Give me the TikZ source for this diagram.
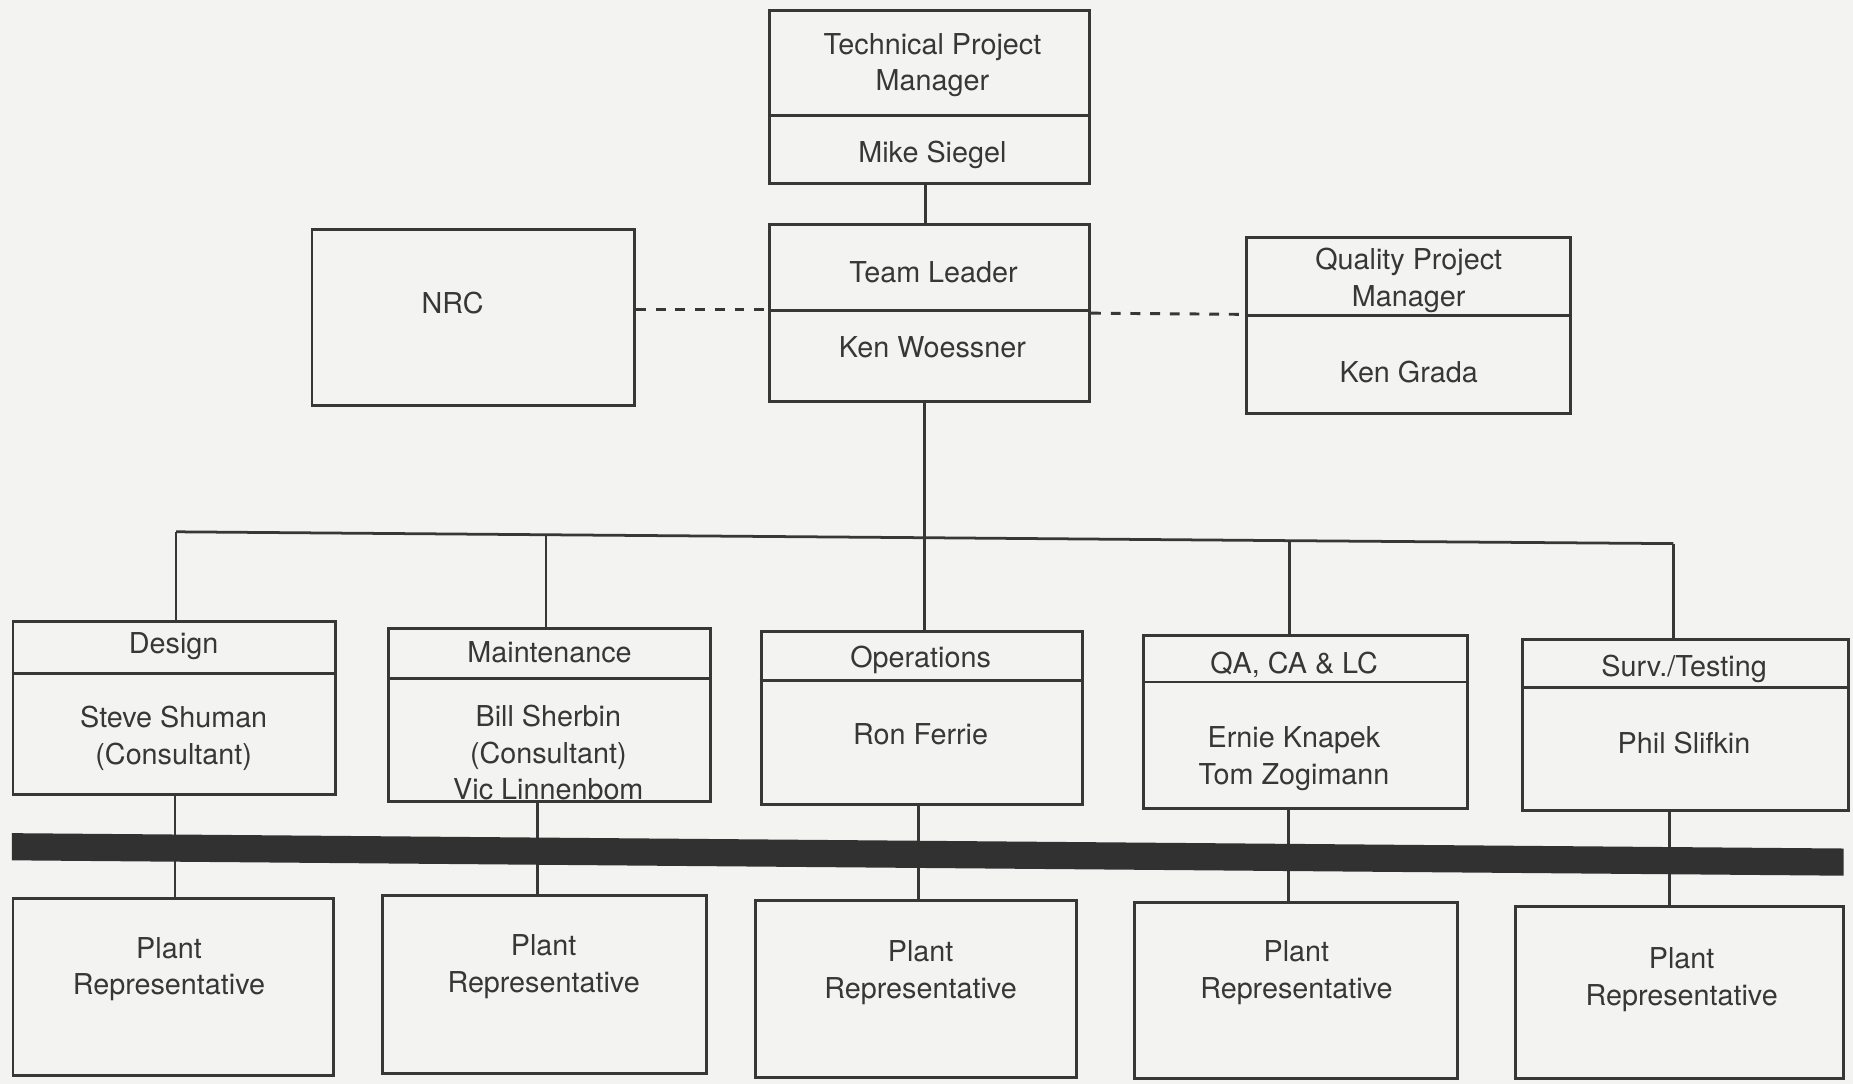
\documentclass[tikz,border=0pt]{standalone}
\usepackage{fontspec}
\setmainfont{TeX Gyre Heros}
\usetikzlibrary{fit}
\definecolor{ink}{RGB}{55,55,55}
\definecolor{paper}{RGB}{243,243,242}
\begin{document}
\begin{tikzpicture}[x=0.6pt,y=-0.6pt,
  box/.style={draw=ink, line width=1.5pt, inner sep=0pt},
  conn/.style={draw=ink, line width=1.4pt},
  dashconn/.style={draw=ink, line width=1.5pt, dash pattern=on 5pt off 5pt},
  lbl/.style={text=ink, font=\fontsize{14.6}{18.6}\selectfont, align=center, inner sep=0pt}]
\fill[paper] (0,0) rectangle (1568,917);
\useasboundingbox (0,0) rectangle (1568,917);

% top boxes
\node[box, fit={(651,9) (922,155)}] (tpm) {};
\draw[conn] (tpm.west |- 0,98) -- (tpm.east |- 0,98);
\node[lbl] (tpmT) at (789,55) {Technical Project\\Manager};
\node[lbl] (tpmN) at (789,131) {Mike Siegel};

\node[box, fit={(651,190) (922,340)}] (tl) {};
\draw[conn] (tl.west |- 0,263) -- (tl.east |- 0,263);
\node[lbl] (tlT) at (790,230) {Team Leader};
\node[lbl] (tlN) at (789,294) {Ken Woessner};

\node[box, fit={(264,194) (537,343)}] (nrc) {};
\node[lbl] (nrcT) at (383,256) {NRC};

\node[box, fit={(1055,201) (1329,350)}] (qpm) {};
\draw[conn] (qpm.west |- 0,267) -- (qpm.east |- 0,267);
\node[lbl] (qpmT) at (1192,237) {Quality Project\\Manager};
\node[lbl] (qpmN) at (1192,315) {Ken Grada};

\draw[conn] (tpm.south -| 783,0) -- (tl.north -| 783,0);
\draw[dashconn] (nrc.east |- 0,262) -- (tl.west |- 0,262);
\draw[dashconn] (tl.east |- 0,265) -- (qpm.west |- 0,266);

% second row
\node[box, fit={(11,526) (284,672)}] (des) {};
\draw[conn] (des.west |- 0,570) -- (des.east |- 0,570);
\node[lbl] (desT) at (147,547) {Design};
\node[lbl] (desN) at (147,625) {Steve Shuman\\(Consultant)};

\node[box, fit={(329,532) (601,678)}] (mnt) {};
\draw[conn] (mnt.west |- 0,574) -- (mnt.east |- 0,574);
\node[lbl] (mntT) at (465,552) {Maintenance};
\node[lbl] (mntN) at (464,637) {Bill Sherbin\\(Consultant)\\Vic Linnenbom};

\node[box, fit={(644,534) (916,681)}] (ops) {};
\draw[conn] (ops.west |- 0,576) -- (ops.east |- 0,576);
\node[lbl] (opsT) at (779,558) {Operations};
\node[lbl] (opsN) at (779,621) {Ron Ferrie};

\node[box, fit={(968,538) (1242,684)}] (qa) {};
\draw[conn] (qa.west |- 0,577) -- (qa.east |- 0,577);
\node[lbl] (qaT) at (1095,563) {QA, CA \& LC};
\node[lbl] (qaN) at (1095,642) {Ernie Knapek\\Tom Zogimann};

\node[box, fit={(1288,541) (1564,686)}] (srv) {};
\draw[conn] (srv.west |- 0,582) -- (srv.east |- 0,582);
\node[lbl] (srvT) at (1425,566) {Surv./Testing};
\node[lbl] (srvN) at (1425,629) {Phil Slifkin};

% bus
\coordinate (b1) at (149,450);
\coordinate (b2) at (462,452.5);
\coordinate (b3) at (782,455);
\coordinate (b4) at (1091,457.5);
\coordinate (b5) at (1416,460);
\draw[conn] (tl.south -| b3) -- (b3);
\draw[conn] (b1) -- (b2) -- (b3) -- (b4) -- (b5);
\draw[conn] (b1) -- (b1 |- des.north);
\draw[conn] (b2) -- (b2 |- mnt.north);
\draw[conn] (b3) -- (b3 |- ops.north);
\draw[conn] (b4) -- (b4 |- qa.north);
\draw[conn] (b5) -- (b5 |- srv.north);

% plant representatives
\node[box, fit={(11,760) (282,910)}] (p1) {};
\node[lbl] (p1T) at (143,820) {Plant\\Representative};
\node[box, fit={(324,758) (598,908)}] (p2) {};
\node[lbl] (p2T) at (460,818) {Plant\\Representative};
\node[box, fit={(639,762) (911,912)}] (p3) {};
\node[lbl] (p3T) at (779,823) {Plant\\Representative};
\node[box, fit={(960,764) (1233,913)}] (p4) {};
\node[lbl] (p4T) at (1097,823) {Plant\\Representative};
\node[box, fit={(1282,767) (1560,913)}] (p5) {};
\node[lbl] (p5T) at (1423,829) {Plant\\Representative};

\draw[conn] (des.south -| 148,0) -- (p1.north -| 148,0);
\draw[conn] (mnt.south -| 455,0) -- (p2.north -| 455,0);
\draw[conn] (ops.south -| 777,0) -- (p3.north -| 777,0);
\draw[conn] (qa.south -| 1090,0) -- (p4.north -| 1090,0);
\draw[conn] (srv.south -| 1413,0) -- (p5.north -| 1413,0);

% thick bar
\fill[ink!90!black] (10,705) -- (1560,718) -- (1560,741) -- (10,728) -- cycle;
\end{tikzpicture}
\end{document}
